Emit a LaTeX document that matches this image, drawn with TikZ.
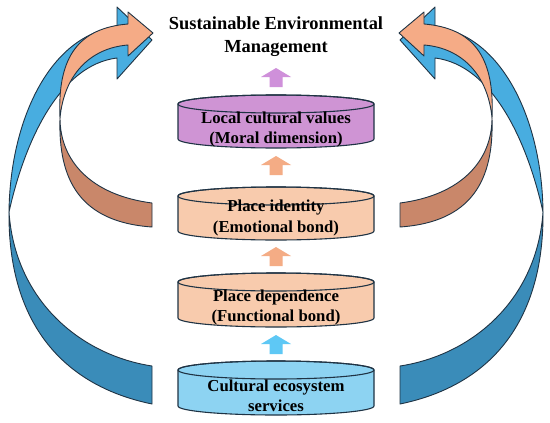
\documentclass[tikz,border=0pt]{standalone}
\usepackage{fontspec}
\setmainfont{Liberation Serif}
\usetikzlibrary{positioning}
\definecolor{edge}{HTML}{1F3344}
\definecolor{bluefront}{HTML}{48ADE0}
\definecolor{blueback}{HTML}{3A8CB9}
\definecolor{orangefront}{HTML}{F5AB86}
\definecolor{orangeback}{HTML}{C9876A}
\definecolor{purpledisc}{HTML}{CF94D4}
\definecolor{orangedisc}{HTML}{F8CBAD}
\definecolor{bluedisc}{HTML}{8DD3F2}
\definecolor{purplearr}{HTML}{CF90DA}
\definecolor{orangearr}{HTML}{F4AC85}
\definecolor{bluearr}{HTML}{5EC8F5}

\newcommand{\disc}[3]{% #1 = top centre, #2 = depth, #3 = fill
  \begin{scope}[shift={#1}]
    \filldraw[fill=#3, draw=edge, line width=1.1pt] (-98,0) -- (-98,-#2)
      arc[start angle=180, end angle=360, x radius=98, y radius=9] -- (98,0)
      arc[start angle=0, end angle=180, x radius=98, y radius=9] -- cycle;
    \draw[edge, line width=1.1pt] (0,0) ellipse[x radius=98, y radius=9];
  \end{scope}}
\newcommand{\blockup}[2]{% #1 = tip, #2 = fill
  \fill[#2] #1 -- ++(-15,-9) -- ++(8.5,0) -- ++(0,-10) -- ++(13,0) -- ++(0,10) -- ++(8.5,0) -- cycle;}

\begin{document}
\begin{tikzpicture}[
  x=1bp, y=1bp,
  band/.style={draw=edge, line width=0.9pt, line join=round},
  lbl/.style={font=\fontsize{16.8}{20.5}\selectfont\bfseries, align=center, inner sep=0pt},
]
  \useasboundingbox (0,0) rectangle (550,422);
  \fill[white] (0,0) rectangle (550,422);

  % ---------------- big curved arrows, left and mirrored right
  \foreach \sx/\dx in {1/0, -1/552} {
    \begin{scope}[shift={(\dx,0)}, xscale=\sx]
      \filldraw[band, fill=blueback] (152,56) -- (152,18)
        .. controls (60,37) and (8,102) .. (9,210)
        .. controls (15,122) and (80,67) .. (152,56) -- cycle;
      \filldraw[band, fill=bluefront] (9,210)
        .. controls (10,302) and (50,387) .. (117,395)
        -- (117,415) -- (152,382) -- (117,343) -- (117,364)
        .. controls (60,357) and (25,282) .. (9,210) -- cycle;
      \filldraw[band, fill=orangeback] (152,219)
        .. controls (90,227) and (60,262) .. (60,304)
        .. controls (58,242) and (80,200) .. (152,195) -- cycle;
      \filldraw[band, fill=orangefront] (60,304)
        .. controls (57,367) and (80,394) .. (128,398)
        -- (128,410) -- (153,389) -- (128,366) -- (128,377)
        .. controls (90,374) and (64,347) .. (60,304) -- cycle;
    \end{scope}
  }

  % ---------------- discs
  \disc{(276,318)}{35}{purpledisc}
  \disc{(276,226)}{35}{orangedisc}
  \disc{(276,140)}{36}{orangedisc}
  \disc{(276,52)}{36}{bluedisc}

  \node[lbl] (values) at (276,292.5) {Local cultural values\\(Moral dimension)};
  \node[lbl] (identity) at (276,204) {Place identity\\(Emotional bond)};
  \node[lbl] (dependence) at (276,114.5) {Place dependence\\(Functional bond)};
  \node[lbl] (services) at (276,26.5) {Cultural ecosystem\\services};
  \node[lbl, font=\fontsize{18.5}{23}\selectfont\bfseries] (goal) at (276,385.5)
    {Sustainable Environmental\\Management};

  % ---------------- small arrows between discs
  \blockup{(276,354)}{purplearr}
  \blockup{(276,266)}{orangearr}
  \blockup{(276,175)}{orangearr}
  \blockup{(276,87)}{bluearr}
\end{tikzpicture}
\end{document}
